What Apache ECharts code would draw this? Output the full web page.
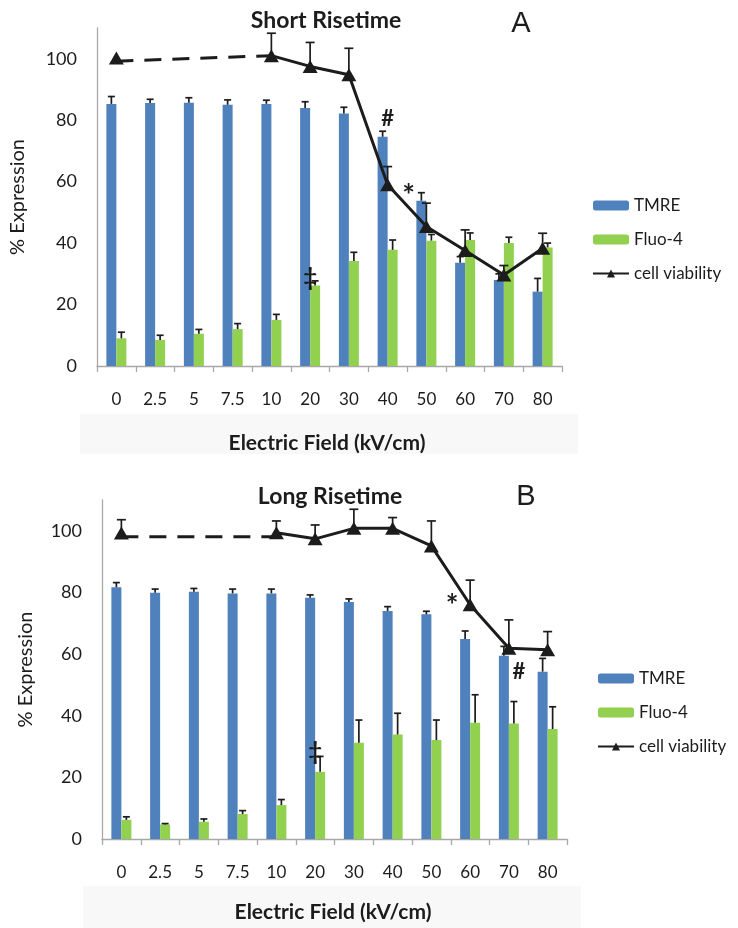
<!DOCTYPE html>
<html>
<head>
<meta charset="utf-8">
<script src="https://cdn.jsdelivr.net/npm/echarts@6/dist/echarts.min.js"></script>
<style>
html,body{margin:0;padding:0;background:#fff;}
#chart{width:738px;height:928px;}
</style>
</head>
<body>
<div id="chart"></div>
<script>
// ---------- data ----------
var categories = ['0', '2.5', '5', '7.5', '10', '20', '30', '40', '50', '60', '70', '80'];

// Panel A: Short Risetime
var tmreA      = [85.3, 85.6, 85.7, 85.0, 85.3, 84.0, 82.2, 74.6, 53.8, 33.6, 28.0, 24.2];
var tmreErrA   = [2.4, 1.2, 1.6, 1.6, 1.2, 2.0, 2.0, 1.8, 2.6, 2.0, 2.0, 4.3];
var fluoA      = [9.0, 8.5, 10.5, 12.0, 15.0, 26.2, 34.2, 37.8, 40.8, 41.0, 40.0, 38.6];
var fluoErrA   = [2.0, 1.5, 1.4, 1.8, 1.8, 1.5, 2.8, 3.2, 2.0, 2.3, 1.9, 1.4];
var viabA      = [100.2, null, null, null, 101.0, 97.5, 94.8, 59.0, 45.4, 37.6, 29.6, 38.3];
var viabErrA   = [0, null, null, null, 7.3, 7.8, 8.6, 5.9, 7.6, 6.7, 3.1, 4.9];
var viabDashA  = [99.2, null, null, null, 101.0, null, null, null, null, null, null, null];

// Panel B: Long Risetime
var tmreB      = [81.7, 79.9, 80.2, 79.7, 79.7, 78.3, 76.9, 74.0, 72.9, 64.9, 59.5, 54.3];
var tmreErrB   = [1.5, 1.2, 1.1, 1.4, 1.4, 0.9, 1.0, 1.4, 1.0, 2.6, 3.0, 4.3];
var fluoB      = [6.2, 4.7, 5.6, 8.1, 11.0, 21.8, 31.2, 33.9, 32.1, 37.7, 37.5, 35.7];
var fluoErrB   = [1.0, 0.3, 0.9, 1.1, 1.8, 5.0, 7.4, 6.9, 6.5, 9.1, 7.1, 7.2];
var viabB      = [99.3, null, null, null, 99.4, 97.4, 100.8, 100.8, 95.1, 76.0, 61.9, 61.4];
var viabErrB   = [4.3, null, null, null, 3.8, 4.5, 6.2, 3.5, 8.1, 8.0, 9.2, 5.9];
var viabDashB  = [98.1, null, null, null, 98.1, null, null, null, null, null, null, null];

var yTicks = [0, 20, 40, 60, 80, 100];

// significance marks: which series / category they belong to (anchored at bar/error top or at the point)
var marksA = [
  {series: 'tmre', cat: 7, text: '#', atErr: true},
  {series: 'viab', cat: 7, text: '*', atErr: false},
  {series: 'fluo', cat: 5, text: '\u2021', atErr: true}
];
var marksB = [
  {series: 'viab', cat: 9, text: '*', atErr: false},
  {series: 'tmre', cat: 10, text: '#', atErr: true},
  {series: 'fluo', cat: 5, text: '\u2021', atErr: true}
];

// ---------- styling ----------
var BLUE = '#4f81bd', GREEN = '#92d050', INK = '#1c1c1c', AXIS = '#a8a8a8';
var FONT = 'Lato, "Open Sans", sans-serif';
var BAR_W = 10;

function errData(vals, errs) {
  var out = [];
  for (var i = 0; i < vals.length; i++) {
    if (vals[i] != null && errs[i] != null && errs[i] > 0) out.push([i, vals[i], errs[i]]);
  }
  return out;
}
function errSeries(idx, vals, errs, dx, cap) {
  return {
    type: 'custom', xAxisIndex: idx, yAxisIndex: idx, z: 5, silent: true,
    data: errData(vals, errs),
    encode: {x: 0, y: 1},
    renderItem: function (params, api) {
      var i = api.value(0), v = api.value(1), e = api.value(2);
      var p0 = api.coord([i, v]), p1 = api.coord([i, v + e]);
      var x = p0[0] + dx;
      var st = {stroke: INK, lineWidth: 1.7};
      return {type: 'group', children: [
        {type: 'line', shape: {x1: x, y1: p0[1], x2: x, y2: p1[1]}, style: st},
        {type: 'line', shape: {x1: x - cap / 2, y1: p1[1], x2: x + cap / 2, y2: p1[1]}, style: st}
      ]};
    }
  };
}
function markSeries(idx, marks, src, offsets) {
  var data = marks.map(function (m) {
    var s = src[m.series];
    var k = m.series + m.cat;
    var y = s.v[m.cat] + (m.atErr ? (s.e[m.cat] || 0) : 0);
    return [m.cat, y, m.text, offsets[k][0], offsets[k][1], offsets[k][2]];
  });
  return {
    type: 'custom', xAxisIndex: idx, yAxisIndex: idx, z: 10, silent: true,
    data: data, encode: {x: 0, y: 1},
    renderItem: function (params, api) {
      var d = data[params.dataIndex];
      var p = api.coord([d[0], d[1]]);
      return {type: 'text', x: p[0] + d[3], y: p[1] + d[4],
        style: {text: d[2], fill: INK, font: 'bold ' + d[5] + 'px ' + FONT, textAlign: 'center', textVerticalAlign: 'middle'}};
    }
  };
}

function grid(left, top, right, height) { return {left: left, top: top, right: right, height: height}; }

function xAxisFor(idx) {
  return {
    type: 'category', gridIndex: idx, data: categories,
    axisLine: {lineStyle: {color: AXIS, width: 1.3}},
    axisTick: {show: true, length: 6, lineStyle: {color: AXIS, width: 1.3}},
    axisLabel: {color: INK, fontFamily: FONT, fontSize: 17, margin: 25}
  };
}
function yAxisFor(idx, gap) {
  return {
    type: 'value', gridIndex: idx, min: 0, max: 110, interval: 20,
    name: '% Expression', nameLocation: 'middle', nameGap: gap,
    nameTextStyle: {color: INK, fontFamily: FONT, fontSize: 20},
    axisLine: {show: true, lineStyle: {color: AXIS, width: 1.3}},
    axisTick: {show: false},
    splitLine: {show: false},
    axisLabel: {color: INK, fontFamily: FONT, fontSize: 18, margin: 20, showMaxLabel: false,
      formatter: function (v) { return yTicks.indexOf(v) >= 0 ? String(v) : ''; }}
  };
}

function panelSeries(idx, tmre, tmreErr, fluo, fluoErr, viab, viabErr, dash, marks, offsets) {
  var src = {tmre: {v: tmre, e: tmreErr}, fluo: {v: fluo, e: fluoErr}, viab: {v: viab, e: viabErr}};
  return [
    {name: 'TMRE', type: 'bar', xAxisIndex: idx, yAxisIndex: idx, data: tmre, barWidth: BAR_W, barGap: '0%',
      itemStyle: {color: BLUE}},
    {name: 'Fluo-4', type: 'bar', xAxisIndex: idx, yAxisIndex: idx, data: fluo, barWidth: BAR_W, barGap: '0%',
      itemStyle: {color: GREEN}},
    errSeries(idx, tmre, tmreErr, -BAR_W / 2, 7),
    errSeries(idx, fluo, fluoErr, BAR_W / 2, 7),
    {name: 'dash', type: 'line', xAxisIndex: idx, yAxisIndex: idx, data: dash, connectNulls: true,
      showSymbol: false, symbol: 'none', z: 6,
      lineStyle: {color: INK, width: 3, type: [17, 11]}},
    {name: 'cell viability', type: 'line', xAxisIndex: idx, yAxisIndex: idx, data: viab, connectNulls: false,
      symbol: 'triangle', symbolSize: [15, 13], showSymbol: true, z: 7,
      itemStyle: {color: INK}, lineStyle: {color: INK, width: 3}},
    errSeries(idx, viab, viabErr, 0, 9),
    markSeries(idx, marks, src, offsets)
  ];
}

// [dx, dy, fontSize]
var offA = {tmre7: [0, -12, 22], viab7: [21, 12, 30], fluo5: [0, -3, 24]};
var offB = {viab9: [-18, 2, 30], tmre10: [10, 26, 22], fluo5: [0, -4, 24]};

var legendStyle = {
  orient: 'vertical', itemWidth: 36, itemHeight: 10, itemGap: 17,
  textStyle: {color: INK, fontFamily: FONT, fontSize: 17},
  data: ['TMRE', 'Fluo-4', 'cell viability'], selectedMode: false
};

var option = {
  backgroundColor: '#fff',
  animation: false,
  grid: [grid(97, 28, 176, 338), grid(102, 500, 171, 339)],
  xAxis: [xAxisFor(0), xAxisFor(1)],
  yAxis: [yAxisFor(0, 69), yAxisFor(1, 66)],
  legend: [
    Object.assign({left: 587, top: 192}, legendStyle),
    Object.assign({left: 592, top: 665}, legendStyle)
  ],
  graphic: [
    {type: 'rect', z: -10, shape: {x: 80, y: 414, width: 498, height: 40}, style: {fill: '#f8f8f8'}},
    {type: 'rect', z: -10, shape: {x: 83, y: 886, width: 498, height: 42}, style: {fill: '#f8f8f8'}},
    {type: 'text', x: 327, y: 443, style: {text: 'Electric Field (kV/cm)', font: 'bold 21px ' + FONT, fill: INK, textAlign: 'center', textVerticalAlign: 'middle'}},
    {type: 'text', x: 333, y: 912, style: {text: 'Electric Field (kV/cm)', font: 'bold 21px ' + FONT, fill: INK, textAlign: 'center', textVerticalAlign: 'middle'}},
    {type: 'text', x: 326, y: 21, style: {text: 'Short Risetime', font: 'bold 23px ' + FONT, fill: INK, textAlign: 'center', textVerticalAlign: 'middle'}},
    {type: 'text', x: 330, y: 497, style: {text: 'Long Risetime', font: 'bold 23px ' + FONT, fill: INK, textAlign: 'center', textVerticalAlign: 'middle'}},
    {type: 'text', x: 521, y: 24, style: {text: 'A', font: '29px "Liberation Sans", Arial, sans-serif', fill: INK, textAlign: 'center', textVerticalAlign: 'middle'}},
    {type: 'text', x: 526, y: 497, style: {text: 'B', font: '29px "Liberation Sans", Arial, sans-serif', fill: INK, textAlign: 'center', textVerticalAlign: 'middle'}}
  ],
  series: [].concat(
    panelSeries(0, tmreA, tmreErrA, fluoA, fluoErrA, viabA, viabErrA, viabDashA, marksA, offA),
    panelSeries(1, tmreB, tmreErrB, fluoB, fluoErrB, viabB, viabErrB, viabDashB, marksB, offB)
  )
};

var chart = echarts.init(document.getElementById('chart'), null, {renderer: 'canvas'});
chart.setOption(option);
</script>
</body>
</html>
